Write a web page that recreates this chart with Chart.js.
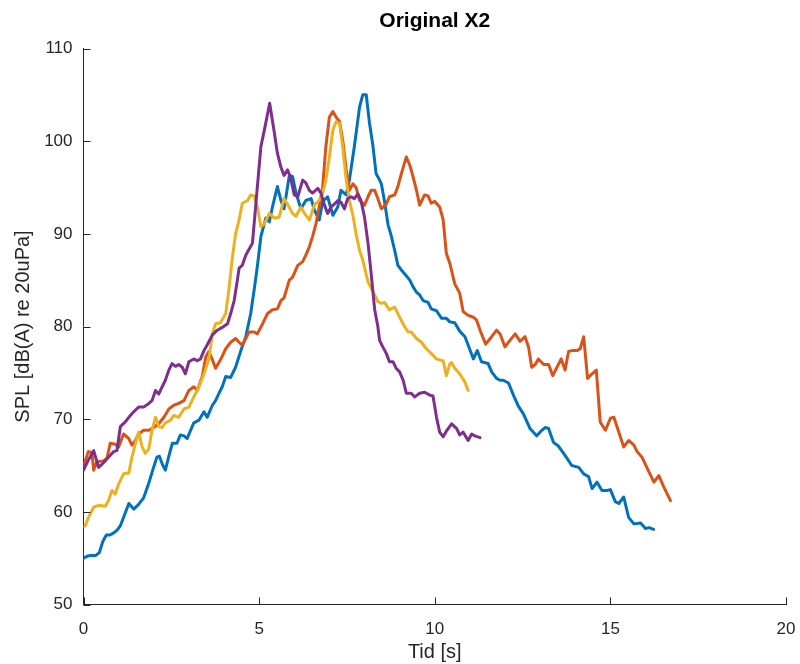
<!DOCTYPE html>
<html>
<head>
<meta charset="utf-8">
<script src="https://cdn.jsdelivr.net/npm/chart.js@4.4.1/dist/chart.umd.min.js"></script>
<style>
  html, body { margin: 0; padding: 0; background: #ffffff; }
  #wrap { width: 800px; height: 664px; }
</style>
</head>
<body>
<div id="wrap"><canvas id="c" width="800" height="664"></canvas></div>
<script>
// ---- Data ----
const titleText = 'Original X2';
const xLabel = 'Tid [s]';
const yLabel = 'SPL [dB(A) re 20uPa]';
const xTicks = [0, 5, 10, 15, 20];
const yTicks = [50, 60, 70, 80, 90, 100, 110];

const blueT = [0.0,0.1,0.2,0.35,0.45,0.55,0.65,0.75,0.85,0.95,1.05,1.15,1.29,1.43,1.57,1.71,1.86,1.97,2.09,2.16,2.26,2.33,2.43,2.53,2.66,2.76,2.86,2.95,3.05,3.14,3.29,3.43,3.52,3.67,3.76,3.86,3.95,4.05,4.19,4.33,4.48,4.62,4.76,4.86,4.95,5.05,5.19,5.29,5.38,5.52,5.62,5.71,5.86,5.95,6.05,6.19,6.33,6.48,6.57,6.71,6.81,6.95,7.1,7.24,7.33,7.48,7.57,7.71,7.86,7.95,8.05,8.14,8.24,8.33,8.43,8.48,8.57,8.67,8.76,8.86,8.95,9.05,9.14,9.29,9.38,9.48,9.57,9.67,9.81,9.9,10.05,10.19,10.33,10.43,10.57,10.71,10.86,10.95,11.1,11.21,11.33,11.52,11.62,11.76,11.86,11.95,12.1,12.24,12.38,12.52,12.71,12.9,13.05,13.14,13.24,13.38,13.52,13.71,13.9,14.1,14.24,14.38,14.48,14.62,14.76,14.9,15.0,15.14,15.24,15.38,15.52,15.67,15.86,16.0,16.1,16.23];
const blueY = [55.0,55.2,55.3,55.3,55.6,56.8,57.5,57.5,57.7,58.0,58.5,59.5,60.9,60.3,60.8,61.5,63.1,64.5,65.9,66.0,65.0,64.5,66.0,67.4,67.4,68.3,68.2,67.9,68.8,69.6,69.9,70.8,70.2,71.5,72.0,72.8,73.5,74.6,74.5,75.6,77.4,78.9,81.4,84.0,86.5,89.7,91.7,91.3,92.9,95.1,93.6,92.7,96.3,96.2,94.4,92.7,93.6,93.8,92.6,91.5,93.5,94.0,92.0,92.9,94.7,94.2,95.8,99.4,103.7,105.0,105.0,102.0,99.5,96.5,95.8,95.4,93.5,91.0,89.8,88.2,86.6,86.1,85.7,85.0,84.3,83.7,83.4,82.8,82.6,81.9,81.7,80.9,80.9,80.5,80.4,79.5,78.9,78.0,76.5,77.4,76.2,76.0,75.1,74.4,74.2,74.2,73.9,72.6,71.4,70.6,69.0,68.2,68.8,69.1,69.0,67.5,67.1,66.1,65.0,64.8,64.1,63.8,62.5,63.2,62.3,62.3,62.4,61.1,60.9,61.6,59.4,58.7,58.8,58.2,58.3,58.1];

const orangeT = [0.0,0.14,0.24,0.29,0.38,0.57,0.67,0.76,0.9,1.0,1.14,1.29,1.38,1.48,1.57,1.71,1.86,2.0,2.14,2.29,2.43,2.57,2.71,2.86,3.0,3.14,3.24,3.38,3.48,3.57,3.67,3.76,3.9,4.05,4.19,4.33,4.43,4.52,4.62,4.71,4.86,4.95,5.1,5.24,5.38,5.52,5.62,5.71,5.86,5.95,6.1,6.24,6.33,6.43,6.52,6.62,6.71,6.81,6.9,7.0,7.1,7.19,7.29,7.38,7.48,7.57,7.67,7.76,7.86,8.0,8.1,8.19,8.29,8.38,8.48,8.62,8.71,8.86,8.95,9.05,9.19,9.29,9.38,9.48,9.57,9.71,9.81,9.9,10.0,10.14,10.24,10.33,10.43,10.57,10.71,10.81,10.95,11.1,11.19,11.29,11.45,11.62,11.76,11.86,12.0,12.14,12.29,12.43,12.57,12.67,12.76,12.86,12.95,13.1,13.24,13.36,13.48,13.6,13.71,13.81,13.9,14.05,14.14,14.24,14.35,14.48,14.6,14.71,14.86,15.0,15.1,15.24,15.38,15.52,15.67,15.76,15.9,16.05,16.24,16.38,16.52,16.71];
const orangeY = [65.0,66.5,66.4,64.5,65.4,65.5,65.8,67.4,67.3,67.0,68.4,67.9,67.2,67.7,68.4,68.8,68.8,69.1,69.5,70.2,71.1,71.5,71.7,72.0,73.1,73.5,73.1,74.6,76.7,77.3,76.4,75.5,76.4,77.6,78.3,78.7,78.3,78.0,78.7,79.4,79.4,79.2,80.3,81.4,81.8,81.9,82.8,83.1,85.0,85.3,86.6,87.0,87.7,88.6,89.7,91.1,92.9,95.1,99.4,102.6,103.2,102.6,102.1,100.1,96.9,94.7,95.4,95.0,93.6,93.1,94.0,94.7,94.7,93.8,92.7,93.2,94.0,94.2,95.1,96.5,98.3,97.4,96.2,94.7,93.1,94.2,94.1,93.3,93.5,92.9,91.5,87.9,86.8,84.6,83.6,81.6,81.2,81.0,80.7,79.6,78.1,78.9,79.6,79.2,77.8,78.5,79.2,78.4,78.9,77.8,75.6,75.9,76.5,75.9,75.9,74.7,75.6,76.5,75.3,77.3,77.4,77.4,77.6,78.9,74.4,74.9,75.3,69.7,68.8,70.1,70.2,68.6,67.0,67.7,67.2,66.5,65.9,64.7,63.2,63.9,62.7,61.2];

const yellowT = [0.0,0.05,0.14,0.29,0.43,0.62,0.71,0.81,0.9,1.0,1.14,1.29,1.38,1.48,1.57,1.67,1.76,1.86,1.95,2.05,2.14,2.24,2.33,2.48,2.57,2.71,2.86,3.0,3.14,3.29,3.43,3.57,3.67,3.76,3.9,4.05,4.14,4.24,4.33,4.43,4.52,4.67,4.76,4.86,4.95,5.05,5.14,5.29,5.43,5.57,5.71,5.81,5.95,6.05,6.19,6.29,6.43,6.57,6.71,6.81,6.9,7.0,7.1,7.19,7.29,7.38,7.48,7.57,7.67,7.76,7.86,7.95,8.1,8.24,8.38,8.48,8.57,8.71,8.86,9.0,9.14,9.24,9.33,9.48,9.62,9.76,9.9,10.05,10.14,10.24,10.33,10.43,10.48,10.57,10.71,10.86,10.95];
const yellowY = [58.4,58.5,59.4,60.5,60.7,60.6,61.2,62.3,61.9,63.0,64.1,64.2,65.9,67.4,68.6,67.0,66.3,66.8,68.8,70.2,69.2,69.1,69.6,69.9,70.4,70.2,71.1,71.3,72.4,73.5,74.9,76.5,79.2,80.3,80.4,81.4,84.0,87.5,90.0,91.5,93.3,93.6,94.2,94.1,92.9,90.8,91.0,92.2,91.7,91.8,93.8,93.2,92.2,91.9,92.9,92.2,91.5,93.1,93.6,94.4,95.8,98.3,101.2,102.1,101.9,99.4,95.8,93.6,92.0,90.0,88.2,87.2,84.8,83.8,82.7,82.5,82.6,81.8,82.1,81.0,80.0,79.4,79.4,78.7,78.3,77.6,77.1,76.5,76.4,76.3,74.7,76.0,76.1,75.5,74.9,74.0,73.1];

const purpleT = [0.0,0.14,0.29,0.43,0.57,0.71,0.86,0.95,1.05,1.19,1.29,1.43,1.57,1.71,1.86,1.95,2.05,2.14,2.24,2.33,2.43,2.52,2.62,2.71,2.81,2.9,3.0,3.14,3.24,3.33,3.43,3.52,3.67,3.81,3.95,4.1,4.19,4.29,4.38,4.43,4.52,4.62,4.71,4.81,4.9,5.05,5.17,5.3,5.43,5.52,5.62,5.71,5.81,5.9,6.0,6.1,6.24,6.33,6.43,6.52,6.67,6.76,6.86,6.95,7.05,7.14,7.24,7.33,7.43,7.52,7.62,7.71,7.81,7.9,8.0,8.1,8.19,8.29,8.38,8.43,8.52,8.62,8.71,8.81,8.9,9.0,9.1,9.19,9.33,9.43,9.57,9.71,9.86,9.95,10.05,10.14,10.24,10.33,10.48,10.62,10.71,10.81,10.95,11.05,11.14,11.29];
const purpleY = [64.5,65.6,66.6,64.8,65.3,65.9,66.5,66.6,69.2,69.7,70.2,70.8,71.3,71.3,71.7,72.0,73.1,72.7,73.5,74.2,75.3,76.0,75.7,75.9,75.6,74.9,76.2,76.5,76.3,76.5,77.4,78.0,79.1,79.6,79.9,80.3,81.4,82.8,85.0,86.3,86.6,87.7,88.3,89.0,92.9,99.4,101.6,104.1,101.0,98.7,97.2,96.3,96.9,96.0,94.2,94.0,95.8,95.5,94.7,94.4,94.9,94.4,93.1,92.2,92.9,93.2,93.6,93.4,92.7,93.8,94.0,93.8,94.3,93.6,91.8,89.0,85.7,81.8,80.0,78.5,77.8,77.1,76.2,76.2,75.5,75.1,74.2,72.8,72.8,72.4,72.8,72.9,72.6,72.5,70.2,68.6,68.1,68.7,69.5,69.0,68.3,68.6,67.7,68.4,68.2,68.0];

// ---- Build the Chart.js datasets from the arrays ----
function pts(t, y) { return t.map((v, i) => ({ x: v, y: y[i] })); }

const FONT = "'Liberation Sans', Arial, Helvetica, sans-serif";
const AXIS_COLOR = '#262626';

// Ticks drawn inward (MATLAB style) and the title centred over the plot area
const axesDecor = {
  id: 'axesDecor',
  afterDraw(chart) {
    const { ctx, chartArea: a, scales } = chart;
    ctx.save();
    ctx.strokeStyle = AXIS_COLOR;
    ctx.lineWidth = 1;
    ctx.beginPath();
    xTicks.forEach(v => {
      const px = Math.round(scales.x.getPixelForValue(v)) + 0.5;
      ctx.moveTo(px, a.bottom);
      ctx.lineTo(px, a.bottom - 7);
    });
    yTicks.forEach(v => {
      const py = Math.round(scales.y.getPixelForValue(v)) + 0.5;
      ctx.moveTo(a.left, py);
      ctx.lineTo(a.left + 7, py);
    });
    ctx.stroke();
    ctx.fillStyle = '#000000';
    ctx.font = "bold 21px " + FONT;
    ctx.textAlign = 'center';
    ctx.textBaseline = 'middle';
    ctx.fillText(titleText, (a.left + a.right) / 2, 21.5);
    ctx.restore();
  }
};

const common = { pointRadius: 0, borderWidth: 3, tension: 0, fill: false, borderJoinStyle: 'round', borderCapStyle: 'round' };

new Chart(document.getElementById('c'), {
  type: 'line',
  data: {
    datasets: [
      Object.assign({ label: 'A', data: pts(blueT, blueY), borderColor: '#0072BD', order: 4 }, common),
      Object.assign({ label: 'B', data: pts(orangeT, orangeY), borderColor: '#D95319', order: 3 }, common),
      Object.assign({ label: 'C', data: pts(yellowT, yellowY), borderColor: '#EDB120', order: 2 }, common),
      Object.assign({ label: 'D', data: pts(purpleT, purpleY), borderColor: '#7E2F8E', order: 1 }, common)
    ]
  },
  options: {
    responsive: false,
    animation: false,
    layout: { padding: { left: 0, right: 14, top: 48.5, bottom: 0 } },
    plugins: {
      legend: { display: false },
      tooltip: { enabled: false },
      title: { display: false }
    },
    scales: {
      x: {
        type: 'linear',
        min: 0, max: 20,
        afterFit(s) { s.height = 59.5; s.paddingLeft = 0; s.paddingRight = 0; },
        afterBuildTicks(s) { s.ticks = xTicks.map(v => ({ value: v })); },
        grid: { display: false, drawTicks: false },
        border: { display: true, color: AXIS_COLOR, width: 1 },
        ticks: { color: AXIS_COLOR, font: { family: FONT, size: 17 }, padding: 15, maxRotation: 0 },
        title: { display: true, text: xLabel, color: AXIS_COLOR, font: { family: FONT, size: 20 }, padding: { top: 0, bottom: 0 } }
      },
      y: {
        type: 'linear',
        min: 50, max: 110,
        afterFit(s) { s.width = 83.5; s.paddingTop = 0; s.paddingBottom = 0; },
        afterBuildTicks(s) { s.ticks = yTicks.map(v => ({ value: v })); },
        grid: { display: false, drawTicks: false },
        border: { display: true, color: AXIS_COLOR, width: 1 },
        ticks: { color: AXIS_COLOR, font: { family: FONT, size: 17 }, padding: 11, maxRotation: 0 },
        title: { display: true, text: yLabel, color: AXIS_COLOR, font: { family: FONT, size: 20 }, padding: { top: 11, bottom: 0 } }
      }
    }
  },
  plugins: [axesDecor]
});
</script>
</body>
</html>
